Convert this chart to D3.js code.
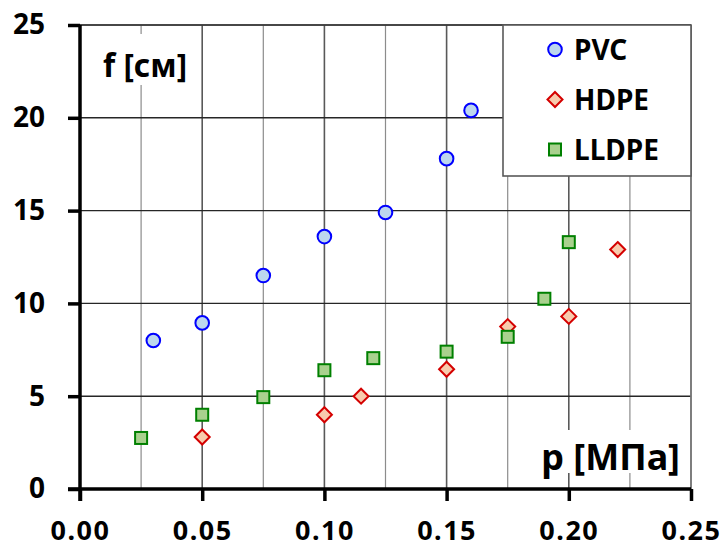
<!DOCTYPE html>
<html>
<head>
<meta charset="utf-8">
<script src="https://cdn.jsdelivr.net/npm/d3@7"></script>
<style>
    body { margin: 0; background: #fff; }
    svg { display: block; font-family: "Noto Sans", sans-serif; font-weight: bold; }
</style>
</head>
<body>
<div id="chart"></div>
<script>
// data
var pvcP = [0.03, 0.05, 0.075, 0.10, 0.125, 0.15, 0.16];
var pvcF = [8.0, 8.95, 11.5, 13.6, 14.9, 17.8, 20.4];

var hdpeP = [0.05, 0.10, 0.115, 0.15, 0.175, 0.20, 0.22];
var hdpeF = [2.8, 4.0, 5.0, 6.45, 8.75, 9.3, 12.9];

var lldpeP = [0.025, 0.05, 0.075, 0.10, 0.12, 0.15, 0.175, 0.19, 0.20];
var lldpeF = [2.75, 4.0, 4.95, 6.4, 7.05, 7.4, 8.2, 10.25, 13.3];

var xTicks = [0, 0.05, 0.10, 0.15, 0.20, 0.25];
var xMinor = [0.025, 0.075, 0.125, 0.175, 0.225];
var yTicks = [0, 5, 10, 15, 20, 25];

var seriesNames = ["PVC", "HDPE", "LLDPE"];
var yTitle = "f [см]";
var xTitle = "p [МПа]";

//init
var W = 724, H = 548;
var margin = {top: 25, right: 33, bottom: 59, left: 80},
    width = W - margin.left - margin.right,
    height = H - margin.top - margin.bottom;

var x = d3.scaleLinear().domain([0, 0.25]).range([0, width]);
var y = d3.scaleLinear().domain([0, 25]).range([height, 0]);

var styles = {
    PVC:   {shape: "circle",  fill: "#bdd7ee", stroke: "#0000ff"},
    HDPE:  {shape: "diamond", fill: "#f8cbad", stroke: "#d40000"},
    LLDPE: {shape: "square",  fill: "#a9d18e", stroke: "#008000"}
};

var series = [
    {name: "PVC",   p: pvcP,   f: pvcF},
    {name: "HDPE",  p: hdpeP,  f: hdpeF},
    {name: "LLDPE", p: lldpeP, f: lldpeF}
];

var svg = d3.select("#chart").append("svg")
    .attr("width", W)
    .attr("height", H);

var g = svg.append("g")
    .attr("transform", "translate(" + margin.left + "," + margin.top + ")");

// draws one marker into sel
function marker(sel, shape, s) {
    if (shape === "circle") {
        sel.append("circle").attr("r", 6.8);
    } else if (shape === "square") {
        sel.append("rect").attr("x", -6).attr("y", -6).attr("width", 12).attr("height", 12);
    } else {
        sel.append("path").attr("d", "M0,-7.5L7.5,0L0,7.5L-7.5,0Z");
    }
    sel.selectAll("*")
        .attr("fill", s.fill)
        .attr("stroke", s.stroke)
        .attr("stroke-width", 2);
}

var layers = {};

layers.grid = function () {
    var grid = g.append("g").classed("grid", true);

    grid.selectAll("line.minor")
        .data(xMinor)
        .enter().append("line")
        .attr("class", "minor")
        .attr("x1", function (d) { return x(d); })
        .attr("x2", function (d) { return x(d); })
        .attr("y1", 0).attr("y2", height)
        .attr("stroke", "#8c8c8c")
        .attr("stroke-width", 1.2);

    grid.selectAll("line.major")
        .data(xTicks.slice(1))
        .enter().append("line")
        .attr("class", "major")
        .attr("x1", function (d) { return x(d); })
        .attr("x2", function (d) { return x(d); })
        .attr("y1", 0).attr("y2", height)
        .attr("stroke", "#595959")
        .attr("stroke-width", 1.6);

    grid.selectAll("line.ygrid")
        .data(yTicks.slice(1))
        .enter().append("line")
        .attr("class", "ygrid")
        .attr("x1", 0).attr("x2", width)
        .attr("y1", function (d) { return y(d); })
        .attr("y2", function (d) { return y(d); })
        .attr("stroke", "#262626")
        .attr("stroke-width", 1.4);
};

// axis titles sit on white boxes that hide the grid
layers.titles = function () {
    function boxed(txt, xp, yp, anchor, size, pad) {
        var t = g.append("g");
        var label = t.append("text")
            .attr("x", xp).attr("y", yp)
            .attr("text-anchor", anchor)
            .attr("font-size", size)
            .attr("fill", "#000")
            .text(txt);
        var b = label.node().getBBox();
        t.insert("rect", "text")
            .attr("x", b.x - pad[3])
            .attr("y", b.y - pad[0])
            .attr("width", b.width + pad[1] + pad[3])
            .attr("height", b.height + pad[0] + pad[2])
            .attr("fill", "#fff");
    }
    boxed(yTitle, 23, 52, "start", 31.5, [9, 5, -1, 5]);
    boxed(xTitle, 600, 445, "end", 36, [2, 2, -8, 6]);
};

layers.points = function () {
    series.forEach(function (s) {
        var st = styles[s.name];
        g.append("g")
            .classed("series-" + s.name, true)
            .selectAll("g")
            .data(d3.zip(s.p, s.f))
            .enter().append("g")
            .attr("transform", function (d) {
                return "translate(" + x(d[0]) + "," + y(d[1]) + ")";
            })
            .each(function () { marker(d3.select(this), st.shape, st); });
    });
};

layers.frame = function () {
    g.append("line")
        .attr("x1", 0).attr("x2", width)
        .attr("y1", 0).attr("y2", 0)
        .attr("stroke", "#404040").attr("stroke-width", 1.6);
    g.append("line")
        .attr("x1", width).attr("x2", width)
        .attr("y1", 0).attr("y2", height)
        .attr("stroke", "#7f7f7f").attr("stroke-width", 1.6);
};

layers.axes = function () {
    var yAxis = d3.axisLeft(y)
        .tickValues(yTicks)
        .tickSize(12)
        .tickSizeOuter(0)
        .tickPadding(23)
        .tickFormat(d3.format("d"));

    var xAxis = d3.axisBottom(x)
        .tickValues(xTicks)
        .tickSize(12)
        .tickSizeOuter(0)
        .tickPadding(20)
        .tickFormat(d3.format(".2f"));

    var ya = g.append("g").call(yAxis);
    var xa = g.append("g")
        .attr("transform", "translate(0," + height + ")")
        .call(xAxis);

    [ya, xa].forEach(function (a) {
        a.select(".domain").attr("stroke", "#000").attr("stroke-width", 3.5);
        a.selectAll(".tick line").attr("stroke", "#000").attr("stroke-width", 3.5);
        a.selectAll(".tick text")
            .attr("fill", "#000")
            .attr("font-family", "Noto Sans, sans-serif")
            .attr("font-weight", "bold")
            .attr("font-size", 28);
    });
    xa.selectAll(".tick text").attr("font-size", 27).attr("letter-spacing", 1.5);
    // left axis runs down to the tick of 0.00
    ya.select(".domain").attr("d", "M0,0V" + (height + 12));
    xa.select(".domain").attr("d", "M-12,0H" + width);
};

layers.legend = function () {
    var lw = 188, lh = 151;
    var lg = g.append("g")
        .attr("transform", "translate(" + (width - lw) + ",0)");
    lg.append("rect")
        .attr("width", lw).attr("height", lh)
        .attr("fill", "#fff")
        .attr("stroke", "#595959")
        .attr("stroke-width", 1.6);
    var item = lg.selectAll("g.item")
        .data(seriesNames)
        .enter().append("g")
        .attr("class", "item")
        .attr("transform", function (d, i) {
            return "translate(52," + (24.5 + i * 50) + ")";
        });
    item.each(function (d) {
        var m = d3.select(this).append("g");
        marker(m, styles[d].shape, styles[d]);
    });
    item.append("text")
        .attr("x", 19)
        .attr("y", 10)
        .attr("font-size", 28)
        .attr("fill", "#000")
        .text(function (d) { return d; });
};

layers.grid();
layers.titles();
layers.frame();
layers.points();
layers.axes();
layers.legend();
</script>
</body>
</html>
